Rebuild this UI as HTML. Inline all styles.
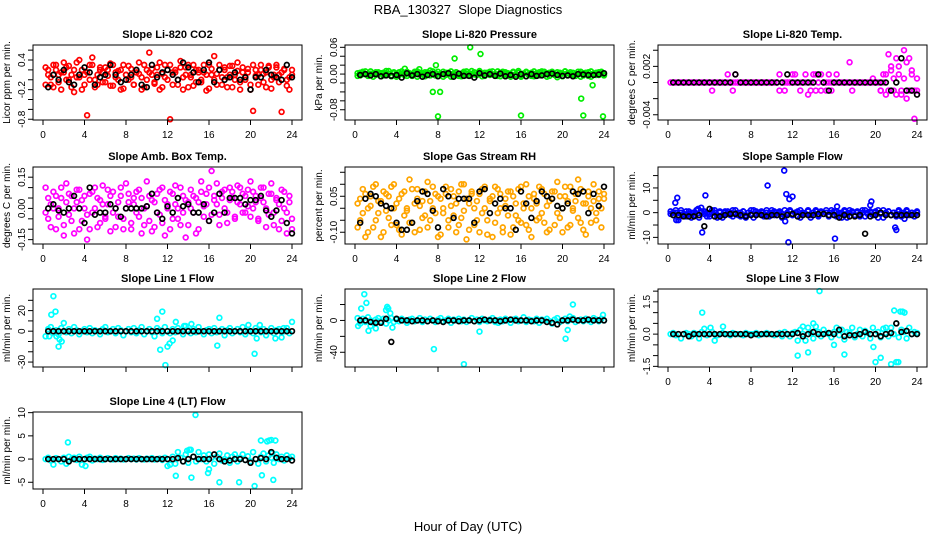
<!DOCTYPE html>
<html><head><meta charset="utf-8">
<style>
html,body{margin:0;padding:0;background:#fff;}
svg{display:block;font-family:"Liberation Sans",sans-serif;}
</style></head>
<body>
<svg id="chart" width="936" height="540" viewBox="0 0 936 540">
<text x="468" y="14" text-anchor="middle" font-size="13" style="white-space:pre">RBA_130327  Slope Diagnostics</text>
<text x="468" y="531" text-anchor="middle" font-size="13">Hour of Day (UTC)</text>
<g id="panels"></g>
</svg>
<script>
const HOURS = [0.25,0.5,0.75,1,1.25,1.5,1.75,2,2.25,2.5,2.75,3,3.25,3.5,3.75,4,4.25,4.5,4.75,5,5.25,5.5,5.75,6,6.25,6.5,6.75,7,7.25,7.5,7.75,8,8.25,8.5,8.75,9,9.25,9.5,9.75,10,10.25,10.5,10.75,11,11.25,11.5,11.75,12,12.25,12.5,12.75,13,13.25,13.5,13.75,14,14.25,14.5,14.75,15,15.25,15.5,15.75,16,16.25,16.5,16.75,17,17.25,17.5,17.75,18,18.25,18.5,18.75,19,19.25,19.5,19.75,20,20.25,20.5,20.75,21,21.25,21.5,21.75,22,22.25,22.5,22.75,23,23.25,23.5,23.75,24];
const BLACK_HOURS = [0.5,1,1.5,2,2.5,3,3.5,4,4.5,5,5.5,6,6.5,7,7.5,8,8.5,9,9.5,10,10.5,11,11.5,12,12.5,13,13.5,14,14.5,15,15.5,16,16.5,17,17.5,18,18.5,19,19.5,20,20.5,21,21.5,22,22.5,23,23.5,24];
const X_TICKS = [0,4,8,12,16,20,24];

const co2A = [0.25,0.1,-0.1,0.3,0.2,-0.05,0.15,0.35,0.0,0.28,-0.15,0.2,0.05,0.4,-0.2,0.1,-0.72,0.3,0.45,0.0,-0.1,0.25,0.15,-0.05,0.2,0.33,-0.12,0.05,0.18,-0.2,0.3,0.1,0.0,0.22,-0.1,0.15,0.35,0.05,-0.15,0.2,0.55,0.1,-0.05,0.25,-0.2,0.12,0.3,0.0,-0.8,0.15,0.2,-0.1,0.38,0.05,0.25,-0.15,0.1,0.3,-0.05,0.2,0.0,0.15,-0.22,0.3,0.1,0.48,-0.1,0.2,0.05,0.25,-0.15,0.1,0.28,0.0,0.35,-0.2,0.15,0.05,0.22,-0.1,-0.63,0.2,0.1,0.3,-0.05,0.15,0.28,-0.18,0.05,0.25,0.1,-0.65,0.2,0.0,-0.2,0.1];
const co2B = [-0.1,0.2,0.05,-0.15,0.3,0.1,-0.2,0.15,0.25,0.0,0.1,-0.25,0.35,0.05,0.2,-0.1,0.15,0.0,0.3,-0.15,0.1,0.2,-0.05,0.25,0.08,-0.12,0.3,0.15,0.0,0.2,-0.18,0.1,0.28,0.05,-0.1,0.2,0.12,-0.2,0.3,0.0,0.15,0.22,-0.08,0.1,0.35,-0.15,0.05,0.2,0.3,-0.1,0.15,0.0,0.25,-0.2,0.1,0.3,0.05,-0.12,0.2,0.15,-0.05,0.3,0.1,-0.18,0.22,0.0,0.12,0.3,-0.1,0.2,0.05,0.28,-0.15,0.1,0.18,-0.05,0.25,0.0,0.15,-0.2,0.3,0.08,-0.1,0.2,0.12,-0.15,0.25,0.0,0.1,0.3,-0.05,0.15,0.22,-0.12,0.05,0.2];
const co2Black = [-0.15,0.1,0.0,0.2,-0.05,-0.1,0.1,0.25,0.15,-0.1,0.05,0.1,0.3,0.1,-0.05,0.0,0.1,0.2,-0.1,-0.15,0.3,0.05,0.15,0.2,0.1,0.0,0.35,0.25,0.15,-0.05,0.2,0.35,-0.05,0.2,0.0,0.05,0.15,0.0,0.05,-0.2,0.05,0.05,0.2,0.1,0.05,0.0,0.3,0.05];

const presA = [0.002,-0.003,0.005,0.0,-0.004,0.006,0.001,-0.002,0.004,-0.005,0.003,0.0,0.007,-0.003,0.002,-0.006,0.004,0.001,-0.002,0.005,0.0,-0.004,0.003,0.006,-0.001,0.002,-0.005,0.004,0.008,0.0,-0.003,0.005,0.001,-0.006,0.003,0.0,0.006,-0.002,0.004,-0.004,0.001,0.005,-0.003,0.002,0.007,-0.001,0.0,0.004,-0.005,0.003,0.001,-0.002,0.006,0.0,-0.004,0.003,0.005,-0.001,0.002,-0.006,0.004,0.0,0.007,-0.003,0.001,0.005,-0.002,0.003,-0.005,0.0,0.004,0.006,-0.001,0.002,-0.004,0.005,0.0,-0.007,0.003,0.001,0.006,-0.003,0.004,-0.002,0.0,0.005,-0.006,0.002,0.003,-0.004,0.006,0.0,-0.002,0.004,0.001,-0.003];
const presB = [-0.004,0.003,0.0,0.006,-0.002,0.001,-0.006,0.004,0.0,0.002,-0.003,0.007,0.001,-0.005,0.004,0.0,-0.002,0.006,0.003,-0.004,0.002,0.0,0.005,-0.006,0.003,-0.001,0.004,0.0,-0.003,0.006,0.002,-0.004,0.0,0.005,-0.002,0.003,-0.006,0.001,0.004,0.0,-0.005,0.002,0.006,-0.003,0.0,0.004,-0.002,0.007,0.001,-0.004,0.003,0.005,-0.001,0.0,0.006,-0.005,0.002,0.004,-0.003,0.0,0.005,-0.002,0.003,-0.006,0.001,0.004,0.0,-0.004,0.006,0.002,-0.003,0.0,0.005,-0.006,0.003,0.001,-0.002,0.004,0.0,-0.005,0.006,0.002,-0.001,0.003,-0.004,0.0,0.005,-0.003,0.002,0.004,-0.006,0.001,0.003,-0.002,0.005,0.0];
const presExtraH = [7.8,11.1,12.1,9.6,7.5,8.2,8.0,16.0,21.8,22.0,22.9,23.9,4.8,6.2];
const presExtraV = [0.02,0.06,0.045,0.035,-0.04,-0.04,-0.095,-0.093,-0.055,-0.093,-0.025,-0.095,0.012,0.011];
const presBlack = [-0.002,0.0,-0.003,0.0,-0.005,-0.003,-0.004,-0.002,-0.008,0.002,-0.003,0.0,-0.006,-0.002,0.0,-0.005,0.0,0.002,-0.006,0.001,-0.004,-0.004,-0.008,0.002,-0.003,0.0,-0.004,0.001,-0.005,-0.002,-0.006,0.0,-0.005,0.0,-0.004,-0.003,0.0,0.001,-0.002,-0.004,-0.003,-0.005,0.0,-0.001,-0.002,-0.002,-0.001,0.002];

const tempA = [0,0,0,0,0,0,0,0,0,0,0,0,0,0,0,0,-0.001,0,0,0,0,0,0.001,0,-0.001,0,0,0,0,0,0,0,0,0,0,0,0,0,0,0,0,0,0.001,0,-0.001,0,0,0,0.001,0,-0.001,0,0.001,-0.0015,0,0.001,-0.001,0,0.001,0,-0.001,0.001,-0.001,0,0.001,0,0,0,0,0.0025,-0.001,0,0,0,0,0,0,0,0.0005,0,0,-0.001,0.001,-0.0015,0.0035,0.002,-0.001,0.003,0.001,-0.0015,0.004,0.0025,-0.001,0.0015,-0.0045,-0.001];
const tempB = [0,0,0,0,0,0,0,0,0,0,0,0,0,0,0,0,0,0,0,0,0,0,0,0,0,0.001,0,0,0,0,0,0,0,0,0,0,0,0,0,0,0,0,-0.001,0,0,0,0,0.001,0,0,0,0,0,0,-0.001,0,0.001,0,-0.001,0,0,0,0,0,0,0,0,0,0,0,0,0,0,0,0,0,0,0,0,0,0,-0.001,0,0.001,-0.001,0.0015,0.0005,-0.0015,0.002,-0.001,0.0005,-0.002,0.003,0.001,-0.001,0.0005];
const tempBlack = [0,0,0,0,0,0,0,0,0,0,0,0,0.001,0,0,0,0,0,0,0,0,0,0.001,0,0,0,0,0,0.001,0,-0.001,0,0,0,0,0,0,0,0,0,0,0,-0.001,0,0.003,-0.001,-0.001,-0.0015];

const ambA = [0.1,-0.05,0.02,0.08,-0.1,0.0,0.05,-0.08,0.12,-0.03,0.06,-0.12,0.03,0.09,-0.06,0.0,-0.15,0.07,-0.02,0.1,-0.09,0.04,0.11,-0.05,0.02,-0.11,0.08,0.0,-0.04,0.06,-0.1,0.12,0.03,-0.07,0.05,-0.02,0.09,-0.12,0.0,0.13,-0.06,0.04,-0.09,0.07,-0.03,0.1,-0.13,0.02,0.08,-0.05,0.11,0.0,-0.08,0.06,-0.14,0.03,0.09,-0.02,0.05,-0.1,0.13,0.01,0.07,-0.06,0.18,0.04,0.12,-0.03,0.08,0.0,-0.07,0.1,0.05,-0.04,0.11,0.02,0.07,-0.02,0.09,0.13,0.0,0.06,-0.05,0.1,0.03,-0.09,0.07,0.12,-0.02,0.05,-0.1,0.09,0.0,-0.12,0.06,-0.05];
const ambB = [-0.02,0.05,-0.09,0.0,0.06,-0.04,0.1,-0.13,0.03,0.07,-0.06,0.0,0.09,-0.1,0.04,0.06,-0.03,-0.1,0.08,0.0,0.05,-0.07,0.02,-0.04,0.09,0.06,-0.02,-0.09,0.03,0.1,-0.05,0.0,0.07,-0.1,0.02,0.08,-0.04,0.05,-0.08,0.01,0.06,-0.11,0.03,-0.02,0.09,-0.07,0.04,0.0,-0.1,0.07,0.02,-0.05,0.1,-0.02,0.04,-0.08,0.0,0.06,-0.12,0.03,0.08,-0.04,0.02,0.1,-0.03,0.06,0.02,-0.08,0.05,0.09,-0.02,0.04,0.08,-0.05,0.03,0.1,-0.02,0.06,0.01,-0.04,0.08,0.03,-0.06,0.05,0.1,0.0,-0.03,0.07,-0.08,0.04,0.02,-0.06,0.08,-0.02,0.03,-0.1];
const ambBlack = [0.0,0.02,-0.01,-0.02,0.0,0.06,0.0,-0.07,0.1,-0.03,-0.02,-0.02,0.02,0.0,-0.04,0.0,0.0,0.0,0.0,0.01,0.07,-0.02,-0.05,0.01,-0.02,0.05,0.01,0.02,-0.02,-0.02,0.02,-0.06,-0.02,0.07,-0.02,0.05,0.05,0.05,0.02,0.04,0.04,0.06,-0.01,-0.04,-0.01,0.04,-0.07,-0.12];

const rhA = [0.02,-0.05,0.08,-0.12,0.0,0.05,-0.08,0.1,-0.02,0.03,-0.1,0.06,-0.04,0.09,0.0,-0.07,0.04,-0.11,0.07,-0.01,0.12,-0.06,0.02,0.08,-0.09,0.03,-0.03,0.11,-0.05,0.0,0.06,-0.12,0.04,-0.02,0.09,-0.08,0.01,0.05,-0.1,0.07,-0.04,0.1,-0.13,0.02,0.06,-0.07,0.03,-0.1,0.08,0.0,-0.05,0.04,-0.12,0.09,-0.02,0.06,-0.08,0.01,0.07,-0.11,0.05,-0.03,0.08,-0.06,0.02,0.1,-0.09,0.0,0.04,-0.05,0.09,-0.02,0.06,-0.1,0.03,0.07,-0.07,0.11,-0.04,0.0,0.05,-0.08,0.09,-0.01,0.03,0.12,-0.06,0.02,-0.11,0.07,0.0,0.1,-0.05,0.04,-0.08,0.06];
const rhB = [-0.08,0.04,-0.02,0.06,-0.1,0.01,0.09,-0.05,0.03,-0.12,0.07,-0.01,0.05,-0.07,0.1,0.02,-0.09,0.06,-0.03,0.0,-0.06,0.08,-0.1,0.04,0.01,-0.04,0.07,-0.08,0.03,0.09,-0.02,0.05,-0.11,0.0,0.06,-0.05,0.08,-0.03,0.02,-0.07,0.1,-0.01,0.04,-0.09,0.07,0.0,-0.05,0.06,-0.02,0.09,-0.11,0.03,0.05,-0.06,0.08,0.0,-0.1,0.04,-0.03,0.07,-0.08,0.02,-0.05,0.09,0.0,-0.07,0.05,-0.12,0.06,0.02,-0.04,0.08,-0.06,0.01,-0.09,0.04,0.07,-0.02,0.05,-0.1,0.09,0.03,-0.07,0.0,0.06,-0.04,0.08,-0.09,0.02,0.05,-0.06,0.03,-0.02,0.07,0.0,0.04];
const rhBlack = [-0.06,0.04,0.06,0.05,0.02,0.01,0.0,-0.06,-0.09,-0.09,-0.06,0.03,0.07,0.06,-0.01,-0.08,0.08,0.05,-0.04,0.04,0.04,0.04,-0.06,0.07,0.08,-0.02,0.02,0.04,0.0,0.0,-0.09,0.07,0.02,-0.04,0.03,0.07,0.05,0.04,0.01,0.0,0.02,0.07,0.06,0.07,-0.02,0.06,0.01,0.09];

const sfA = [0.5,-1,0,-2,1,-0.5,-1.5,0.5,0,-1,1,-2,0.5,-0.5,0,-1.5,1,0,-1,0.5,-2,0,0.5,-1,1,-0.5,0,-1.5,0.5,-1,0,1,-2,0.5,-0.5,0,-1,1,-1.5,0,0.5,-1,0,-2,1,-0.5,0.5,-1,0,-1.5,1,0,-0.5,0.5,-2,0,1,-1,0.5,-0.5,0,-1.5,1,-1,0.5,0,-2,0.5,-0.5,1,0,-1,0.5,-1.5,0,1,-0.5,0,-1,0.5,-2,0,1,-0.5,0.5,-1,0,-1.5,0.5,0,-1,1,-0.5,0,-1.5,0.5];
const sfB = [-0.5,0,1,-1.5,0,-1,0.5,-0.5,-2,0,1,-1,0,0.5,-1.5,-0.5,0,1,-2,0,-1,0.5,-0.5,0,-1.5,1,-1,0,0.5,-2,0,-0.5,1,-1,0,0.5,-1.5,0,-0.5,1,-1,0,0.5,-0.5,-1.5,0,1,-1,0,0.5,-2,0,-0.5,1,-1,0,0.5,-1.5,0,-0.5,1,-1,0,0.5,-1.5,-0.5,0,1,-2,0,0.5,-1,0,-0.5,1,-1.5,0,0.5,-1,0,1,-0.5,-2,0,0.5,-1,0,-0.5,1,-1.5,0,0.5,-1,0,-0.5,0];
const sfExtraH = [0.7,0.9,1.0,3.3,3.6,3.2,9.6,11.2,11.4,11.6,12.0,11.3,11.7,16.1,16.3,19.5,19.6,21.9,22.0,22.8,0.8,2.9];
const sfExtraV = [4,6,-3,-8,7,2,11,17,7.5,-12,6.5,-3.5,5.5,-10.5,2.5,3,4.5,-6,-7,-2.5,-3,1.5];
const sfBlack = [-1,-1,-1.5,-1.5,-1.5,-1,-5.5,1.5,-1.5,-1.5,-1,-0.5,-0.5,-1,-1.5,-1,-1,-1,-1.5,-1,-1,-1.5,-1,-0.5,-1.5,-1,-1,-1,-0.5,-0.5,-1,-1,-2,-1,-1.5,-1.5,-1,-8.5,-1.5,-1,0,-1,-1,-1,-1,-1,-1,-1];

const l1A = [-5,2,4,-2,1,-3,3,0,-1,2,-2,4,1,-3,0,2,-1,3,-2,1,0,-3,2,4,-1,0,2,-2,3,1,-4,0,2,-1,3,-2,1,4,-3,0,2,-1,-5,3,1,-2,4,0,-2,2,-1,3,0,-3,5,1,-2,2,-1,4,0,-3,1,2,-2,3,-1,0,2,-4,1,3,-2,0,2,-1,4,-3,1,0,-2,3,1,-1,2,-4,0,3,-2,1,2,-1,0,3,-2,9];
const l1ExtraH = [0.6,0.8,1.0,1.2,1.3,1.5,1.6,1.8,2.0,11.0,11.3,11.5,11.8,12.0,12.2,12.5,12.8,13.6,14.3,16.8,17.0,19.8,20.4,20.6,20.9,22.4,23.0,23.2];
const l1ExtraV = [-5,16,34,19,-5,-15,-8,-10,8,12,-18,19,-33,-15,-12,-9,9,5,7,-14,13,6,-22,-7,6,-7,-6,3];
const l1Black = [0,0,0,0,0,0,0,0,0,0,0,0,0,0,0,0,0,0,0,0,0,0,0,0,0,0,0,0,0,0,0,0,0,0,0,0,0,0,0,0,0,0,0,0,0,0,0,0];

const l2A = [3,-4,2,-2,4,0,-3,1,3,-1,2,-4,0,3,-2,1,-1,2,0,-3,1,2,-1,0,3,-2,1,-1,2,0,-2,1,3,-1,0,2,-3,1,0,2,-1,1,-2,0,3,-1,1,-2,2,0,-1,1,3,-2,0,1,-1,2,0,-3,1,2,-1,0,4,-2,1,0,-1,2,-3,1,0,2,-1,-4,1,3,-2,0,2,-1,1,3,-2,0,1,-1,2,0,-2,3,1,-1,2,0];
const l2ExtraH = [0.3,0.6,0.9,1.1,1.3,1.5,1.8,2.0,3.0,3.1,3.2,3.4,3.6,7.6,10.5,12.0,13.8,20.3,20.5,20.7,21.0,23.9];
const l2ExtraV = [-7,15,33,22,-13,-7,-3,-10,13,17,15,9,-9,-36,-55,-14,-3,-23,-12,5,20,7];
const l2Black = [0,0,-2,-3,-3,2,-27,2,0,0,-1,0,0,-1,0,-1,-2,0,0,-1,0,0,-1,0,1,0,0,-1,0,1,0,0,0,-1,0,0,-2,-3,-5,0,0,1,0,0,1,0,0,0];

const l3A = [0,0.05,-0.05,0,-0.2,0,0.05,0,-0.1,0.05,0,-0.2,0.1,0.25,-0.05,0,0.1,0,-0.05,0,0.05,0,0,-0.05,0.05,0,0,0,-0.05,0.05,0,0,0,0.05,-0.05,0,0,0.05,0,0,-0.05,0,0.05,-0.1,0.1,0,-0.1,0.05,0.1,-0.3,0.2,0,-0.3,0.3,0.05,-0.2,0.35,0.1,-0.1,0.2,0.05,0,-0.15,0.1,0.3,-0.05,0.2,-0.25,0.1,0.05,0.3,-0.15,0,0.2,-0.1,0.15,0.05,-0.2,0.3,0,0.1,-0.15,0.25,0.05,-0.1,0.3,0,0.5,-0.15,0.2,0.1,-0.2,0.3,0,0.1,0.05];
const l3ExtraH = [3.3,4.1,4.5,5.3,12.5,13.5,14.6,16.0,19.8,20.0,20.5,21.5,21.8,17.0,21.0,22.0,22.2,22.4,22.6,22.8,13.0,14.0];
const l3ExtraV = [1.0,0.3,-0.3,0.35,-1.0,-0.85,2.0,-0.5,-0.6,-1.3,-1.1,-1.4,1.1,-0.95,0.3,-1.3,-1.3,1.05,1.05,1.0,0.35,0.5];
const l3Black = [0,0,0,-0.1,0,0,0,0,0,0,0,0,0,0,0,-0.05,0,0,0,0,0,0,0,0,0.05,-0.1,0,0.1,0,0,0.05,0,0.2,-0.1,-0.05,-0.05,0,0.1,0,0,-0.1,0,0.05,0.5,0.1,0.15,0,0];

const l4A = [0,0.3,-0.3,-1.2,0.2,0,-0.5,0.3,-1,0.5,0,0.3,-0.2,0.5,-1.2,0,0.3,0.5,-0.3,0.1,0,0.3,-0.2,0,0.2,0,-0.1,0.2,0,0.1,-0.1,0,0.2,0,0.1,-0.1,0.2,0,-0.1,0.1,0,0.2,-0.1,0,0.1,-0.2,0.3,-1.5,-1.2,0.5,-1,1.5,0.3,-0.5,1,-0.8,2,0.5,-0.5,1.5,0,0.8,-0.5,1,0.3,-1,0.5,1.2,-0.3,0,0.8,-0.8,0.5,1,-0.5,0.3,1,-0.2,0.6,-0.5,1.5,0,-1,0.5,1.2,-0.5,0.8,0.3,-0.8,1,0,0.5,-0.3,0.8,0.2,0.5];
const l4ExtraH = [2.4,4.1,12.8,14.3,14.7,15.9,16.0,17.0,18.9,20.4,21.1,21.0,21.6,21.8,22.0,22.2,22.4,22.1,14.1,13.9];
const l4ExtraV = [3.6,-1.5,-3.6,-4,9.5,-3,-2.2,-5,-5,-5.8,-3.5,4,3.8,4,4.1,-4.5,4,1.3,2,1.8];
const l4Black = [0,0,0,0,-0.5,0,0,0,0,0,0,0,0,0,0,0,0,0,0,0,0,0,0,0,0,0.2,-0.5,0,0.5,0,0,0,1,0,-0.5,-0.3,0,0,-0.2,-0.8,0,0.2,0,1.5,0.3,0,0,-0.3];

const COL_X0 = [43,355,668];
const ROW_Y = [[45,120],[167,244],[289,367],[412,489]];
const panels = [
 {name:'co2',col:0,row:0,title:'Slope Li-820 CO2',ylab:'Licor ppm per min.',top:0.704,bot:-0.815,ticks:[0.6,0.4,0.2,0,-0.2,-0.4,-0.6,-0.8],lv:[0.4,-0.2,-0.8],lt:['0.4','-0.2','-0.8'],color:'#ff0000',series:[co2A,co2B],exH:[],exV:[],black:co2Black,xl:true},
 {name:'pressure',col:1,row:0,title:'Slope Li-820 Pressure',ylab:'kPa per min.',top:0.0652,bot:-0.103,ticks:[0.06,0.04,0.02,0,-0.02,-0.04,-0.06,-0.08],lv:[0.06,0,-0.08],lt:['0.06','0.00','-0.08'],color:'#00ee00',series:[presA,presB],exH:presExtraH,exV:presExtraV,black:presBlack,xl:true},
 {name:'temp',col:2,row:0,title:'Slope Li-820 Temp.',ylab:'degrees C per min.',top:0.00465,bot:-0.00465,ticks:[0.004,0.002,0,-0.002,-0.004],lv:[0.002,-0.004],lt:['0.002','-0.004'],color:'#ff00ff',series:[tempA,tempB],exH:[],exV:[],black:tempBlack,xl:true},
 {name:'amb-box-temp',col:0,row:1,title:'Slope Amb. Box Temp.',ylab:'degrees C per min.',top:0.199,bot:-0.171,ticks:[0.15,0.1,0.05,0,-0.05,-0.1,-0.15],lv:[0.15,0,-0.15],lt:['0.15','0.00','-0.15'],color:'#ff00ff',series:[ambA,ambB],exH:[],exV:[],black:ambBlack,xl:true},
 {name:'gas-stream-rh',col:1,row:1,title:'Slope Gas Stream RH',ylab:'percent per min.',top:0.172,bot:-0.149,ticks:[0.15,0.1,0.05,0,-0.05,-0.1],lv:[0.05,-0.1],lt:['0.05','-0.10'],color:'#ffa500',series:[rhA,rhB],exH:[],exV:[],black:rhBlack,xl:true},
 {name:'sample-flow',col:2,row:1,title:'Slope Sample Flow',ylab:'ml/min per min.',top:18.47,bot:-12.68,ticks:[15,10,5,0,-5,-10],lv:[10,0,-10],lt:['10','0','-10'],color:'#0000ff',series:[sfA,sfB],exH:sfExtraH,exV:sfExtraV,black:sfBlack,xl:true},
 {name:'line1-flow',col:0,row:2,title:'Slope Line 1 Flow',ylab:'ml/min per min.',top:41,bot:-34.8,ticks:[30,20,10,0,-10,-20,-30],lv:[20,0,-30],lt:['20','0','-30'],color:'#00ffff',series:[l1A],exH:l1ExtraH,exV:l1ExtraV,black:l1Black,xl:false},
 {name:'line2-flow',col:1,row:2,title:'Slope Line 2 Flow',ylab:'ml/min per min.',top:39.5,bot:-58.5,ticks:[20,0,-20,-40],lv:[0,-40],lt:['0','-40'],color:'#00ffff',series:[l2A],exH:l2ExtraH,exV:l2ExtraV,black:l2Black,xl:false},
 {name:'line3-flow',col:2,row:2,title:'Slope Line 3 Flow',ylab:'ml/min per min.',top:2.1,bot:-1.53,ticks:[2,1.5,1,0.5,0,-0.5,-1,-1.5],lv:[1.5,0,-1.5],lt:['1.5','0.0','-1.5'],color:'#00ffff',series:[l3A],exH:l3ExtraH,exV:l3ExtraV,black:l3Black,xl:true},
 {name:'line4-flow',col:0,row:3,title:'Slope Line 4 (LT) Flow',ylab:'ml/min per min.',top:10.14,bot:-6.45,ticks:[10,5,0,-5],lv:[10,5,0,-5],lt:['10','5','0','-5'],color:'#00ffff',series:[l4A],exH:l4ExtraH,exV:l4ExtraV,black:l4Black,xl:true}
];

const NS='http://www.w3.org/2000/svg';
const root=document.getElementById('panels');
function mk(tag,attrs,parent){const e=document.createElementNS(NS,tag);for(const k in attrs)e.setAttribute(k,attrs[k]);parent.appendChild(e);return e;}

panels.forEach(p=>{
  const x0=COL_X0[p.col], [yt,yb]=ROW_Y[p.row];
  const xs=h=>x0+h*(249/24);
  const ys=v=>yt+(p.top-v)/(p.top-p.bot)*(yb-yt);
  const bl=x0-10, br=x0+259;
  const g=mk('g',{},root);
  
  
  const t=mk('text',{x:(bl+br)/2,y:yt-7,'text-anchor':'middle','font-size':'11','font-weight':'bold'},g);
  t.textContent=p.title;
  
  
  const yl=mk('text',{x:0,y:0,'text-anchor':'middle','font-size':'10',transform:`translate(${bl-23},${(yt+yb)/2}) rotate(-90)`},g);
  yl.textContent=p.ylab;
  
  
  const pg=mk('g',{fill:'none','stroke-width':'1.7'},g);
  
  
  const clipTop=yt-4, clipBot=yb+4;
  function dot(h,v,col){
    const cy=ys(v); if(cy<clipTop||cy>clipBot) return;
    const c=mk('circle',{cx:xs(h).toFixed(1),cy:cy.toFixed(1),r:'2.4',stroke:col},pg);
    
    
  }
  p.series.forEach(s=>s.forEach((v,i)=>{if(i<HOURS.length)dot(HOURS[i],v,p.color);}));
  p.exV.forEach((v,i)=>dot(p.exH[i],v,p.color));
  p.black.forEach((v,i)=>{if(i<BLACK_HOURS.length)dot(BLACK_HOURS[i],v,'#000');});
  const box=mk('rect',{x:bl,y:yt,width:br-bl,height:yb-yt,fill:'none',stroke:'#000','stroke-width':'1'},g);
  
  
  const ya=mk('g',{stroke:'#000','stroke-width':'1'},g);
  
  
  p.ticks.forEach(v=>{const y=ys(v);mk('line',{x1:bl-5,x2:bl,y1:y,y2:y},ya);});
  p.lv.forEach((v,i)=>{
    const tx=mk('text',{x:0,y:0,'text-anchor':'middle','font-size':'10',stroke:'none',fill:'#000',transform:`translate(${bl-8},${ys(v)}) rotate(-90)`},ya);
    tx.textContent=p.lt[i];
    
    
  });
  const xa=mk('g',{stroke:'#000','stroke-width':'1'},g);
  
  
  mk('line',{x1:xs(0),x2:xs(24),y1:yb,y2:yb},xa);
  X_TICKS.forEach(h=>{
    mk('line',{x1:xs(h),x2:xs(h),y1:yb,y2:yb+5},xa);
    if(p.xl){
      const tx=mk('text',{x:xs(h),y:yb+18,'text-anchor':'middle','font-size':'10',stroke:'none',fill:'#000'},xa);
      tx.textContent=String(h);
      
      
    }
  });
});
</script>
</body></html>
